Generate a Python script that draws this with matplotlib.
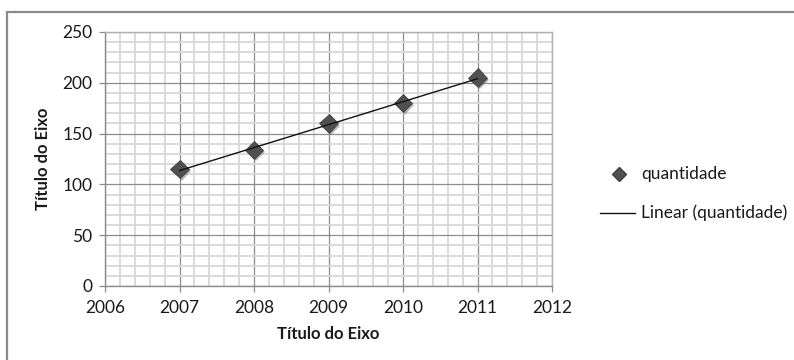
import numpy as np
import matplotlib
matplotlib.use("Agg")
import matplotlib.pyplot as plt
from matplotlib.patches import Rectangle
from matplotlib.ticker import MultipleLocator
import matplotlib.patheffects as pe

plt.rcParams['font.family'] = ['Lato', 'DejaVu Sans']

# yearly data
anos = [2007, 2008, 2009, 2010, 2011]
quantidade = [115, 134, 160, 180, 205]

W, H = 794, 360
fig = plt.figure(figsize=(W / 100, H / 100), dpi=100)

# outer chart frame (right/bottom run past the image edge)
fig.patches.append(Rectangle((7 / W, -0.2), 1.2, (H - 12) / H + 0.2,
                             transform=fig.transFigure, fill=False,
                             edgecolor='#8a8a8a', linewidth=1.6))

ax = fig.add_axes([105 / W, (H - 286) / H, 447 / W, 254 / H])

ax.set_xlim(2006, 2012)
ax.set_ylim(0, 250)
ax.xaxis.set_major_locator(MultipleLocator(1))
ax.xaxis.set_minor_locator(MultipleLocator(0.2))
ax.yaxis.set_major_locator(MultipleLocator(50))
ax.yaxis.set_minor_locator(MultipleLocator(10))

ax.grid(which='minor', color='#d8d8d8', linewidth=1.3)
ax.grid(which='major', color='#8c8c8c', linewidth=0.9)
ax.set_axisbelow(True)

for s in ['top', 'right']:
    ax.spines[s].set_color('#b0b0b0')
    ax.spines[s].set_linewidth(1.0)
for s in ['left', 'bottom']:
    ax.spines[s].set_color('#8c8c8c')
    ax.spines[s].set_linewidth(1.0)

ax.tick_params(which='major', length=4, width=0.9, color='#8c8c8c',
               labelsize=12.5, labelcolor='#1a1a1a', pad=5)
ax.tick_params(which='minor', length=0)
ax.tick_params(axis='x', pad=6)

# trendline through the points
coef = np.polyfit(anos, quantidade, 1)
xs = np.array([anos[0], anos[-1]])
ax.plot(xs, np.polyval(coef, xs), color='#111111', linewidth=1.0,
        label='Linear (quantidade)', zorder=3)

ax.plot(anos, quantidade, linestyle='none', marker='D', markersize=9.5,
        markerfacecolor='#505050', markeredgecolor='#404040',
        markeredgewidth=0.6, label='quantidade', zorder=2,
        path_effects=[pe.SimplePatchShadow(offset=(1.5, -1.5),
                                           shadow_rgbFace='#777777', alpha=0.5),
                      pe.Normal()])

ax.set_xlabel('Título do Eixo', fontsize=12, fontweight='bold', color='#1a1a1a',
              labelpad=7)
ax.set_ylabel('Título do Eixo', fontsize=12, fontweight='bold', color='#1a1a1a',
              labelpad=8)

# legend drawn by hand at the right side
fig.lines.append(plt.Line2D([619 / W], [(H - 174) / H], transform=fig.transFigure,
                            marker='D', markersize=7, markerfacecolor='#505050',
                            markeredgecolor='#404040', linestyle='none'))
fig.text(641 / W, (H - 174) / H, 'quantidade', fontsize=12.5, color='#1a1a1a',
         va='center', ha='left')
fig.lines.append(plt.Line2D([600 / W, 635 / W], [(H - 213) / H] * 2,
                            transform=fig.transFigure, color='#111111', linewidth=1.0))
fig.text(641 / W, (H - 213) / H, 'Linear (quantidade)', fontsize=12.5,
         color='#1a1a1a', va='center', ha='left')

fig.savefig('out.png', dpi=100)
